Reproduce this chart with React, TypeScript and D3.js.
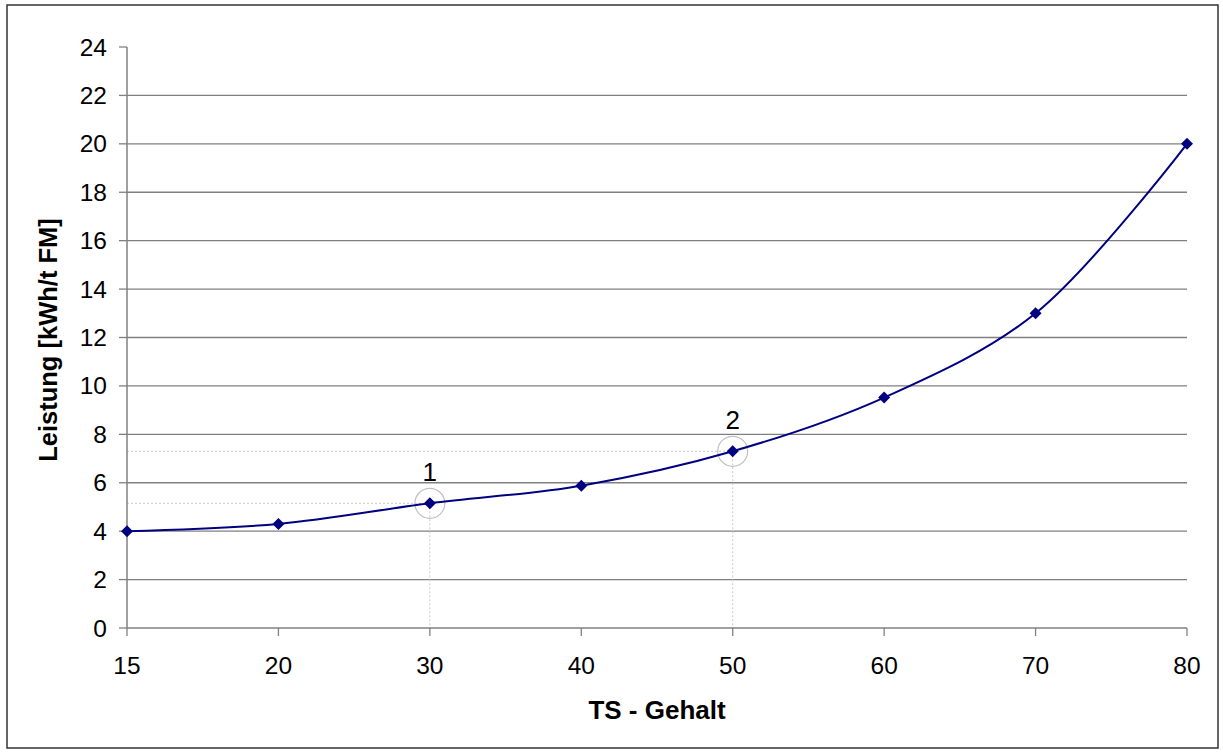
import React from "react";
import * as d3 from "d3";

const categories = ["15", "20", "30", "40", "50", "60", "70", "80"];
const values = [4.0, 4.3, 5.15, 5.88, 7.3, 9.52, 13.0, 20.0];
const yTicks = [0, 2, 4, 6, 8, 10, 12, 14, 16, 18, 20, 22, 24];
const annotations = [
  { category: "30", label: "1" },
  { category: "50", label: "2" },
];
const xTitle = "TS - Gehalt";
const yTitle = "Leistung [kWh/t FM]";

const W = 1223;
const H = 753;
const left = 127;
const right = 1187;
const top = 47;
const bottom = 628;
const FONT = "'Liberation Sans', Arial, sans-serif";

export default function App() {
  const x = d3.scalePoint<string>().domain(categories).range([left, right]);
  const y = d3.scaleLinear().domain([0, 24]).range([bottom, top]);
  const pts: [number, number][] = categories.map((c, i) => [x(c)!, y(values[i])]);
  const line = d3.line().curve(d3.curveCatmullRom.alpha(0.5))(pts) || "";
  const diamond = (cx: number, cy: number, r: number) =>
    `M${cx},${cy - r}L${cx + r},${cy}L${cx},${cy + r}L${cx - r},${cy}Z`;

  return (
    <svg
      width={W}
      height={H}
      style={{ position: "absolute", left: 0, top: 0, background: "#fff" }}
    >
      <rect x={0} y={0} width={W} height={H} fill="#fff" />
      <rect x={7} y={5} width={1211} height={743} fill="none" stroke="#333" strokeWidth={1.5} />

      {/* grid lines */}
      {yTicks.filter((t) => t > 0 && t < 24).map((t) => (
        <line key={"g" + t} x1={left} x2={right} y1={y(t)} y2={y(t)} stroke="#808080" strokeWidth={1.3} />
      ))}

      {/* annotation guide lines */}
      {annotations.map((a) => {
        const i = categories.indexOf(a.category);
        const px = x(a.category)!;
        const py = y(values[i]);
        return (
          <g key={"a" + a.label}>
            <line x1={left} x2={px} y1={py} y2={py} stroke="#c8c8c8" strokeWidth={1} strokeDasharray="2,2" />
            <line x1={px} x2={px} y1={py} y2={bottom} stroke="#c8c8c8" strokeWidth={1} strokeDasharray="2,2" />
            <circle cx={px} cy={py} r={15} fill="none" stroke="#c0c0c0" strokeWidth={1.2} />
            <text x={px} y={py - 22} textAnchor="middle" fontFamily={FONT} fontSize={26} fill="#000">
              {a.label}
            </text>
          </g>
        );
      })}

      {/* axes */}
      <line x1={left} x2={left} y1={top} y2={bottom} stroke="#808080" strokeWidth={1.5} />
      <line x1={left} x2={right} y1={bottom} y2={bottom} stroke="#808080" strokeWidth={1.5} />
      {yTicks.map((t) => (
        <g key={"y" + t}>
          <line x1={left - 8} x2={left} y1={y(t)} y2={y(t)} stroke="#808080" strokeWidth={1.3} />
          <text x={107} y={y(t)} dy="0.35em" textAnchor="end" fontFamily={FONT} fontSize={24.5} fill="#000">
            {t}
          </text>
        </g>
      ))}
      {categories.map((c) => (
        <g key={"x" + c}>
          <line x1={x(c)!} x2={x(c)!} y1={bottom} y2={bottom + 8} stroke="#808080" strokeWidth={1.3} />
          <text x={x(c)!} y={674} textAnchor="middle" fontFamily={FONT} fontSize={24.5} fill="#000">
            {c}
          </text>
        </g>
      ))}

      {/* series */}
      <path d={line} fill="none" stroke="#000080" strokeWidth={2} />
      {pts.map(([px, py], i) => (
        <path key={"m" + i} d={diamond(px, py, 6)} fill="#000080" />
      ))}

      {/* titles */}
      <text x={(left + right) / 2} y={719} textAnchor="middle" fontFamily={FONT} fontSize={26} fontWeight="bold" fill="#000">
        {xTitle}
      </text>
      <text
        transform={`translate(57,340) rotate(-90)`}
        textAnchor="middle"
        fontFamily={FONT}
        fontSize={25.5}
        fontWeight="bold"
        fill="#000"
      >
        {yTitle}
      </text>
    </svg>
  );
}
